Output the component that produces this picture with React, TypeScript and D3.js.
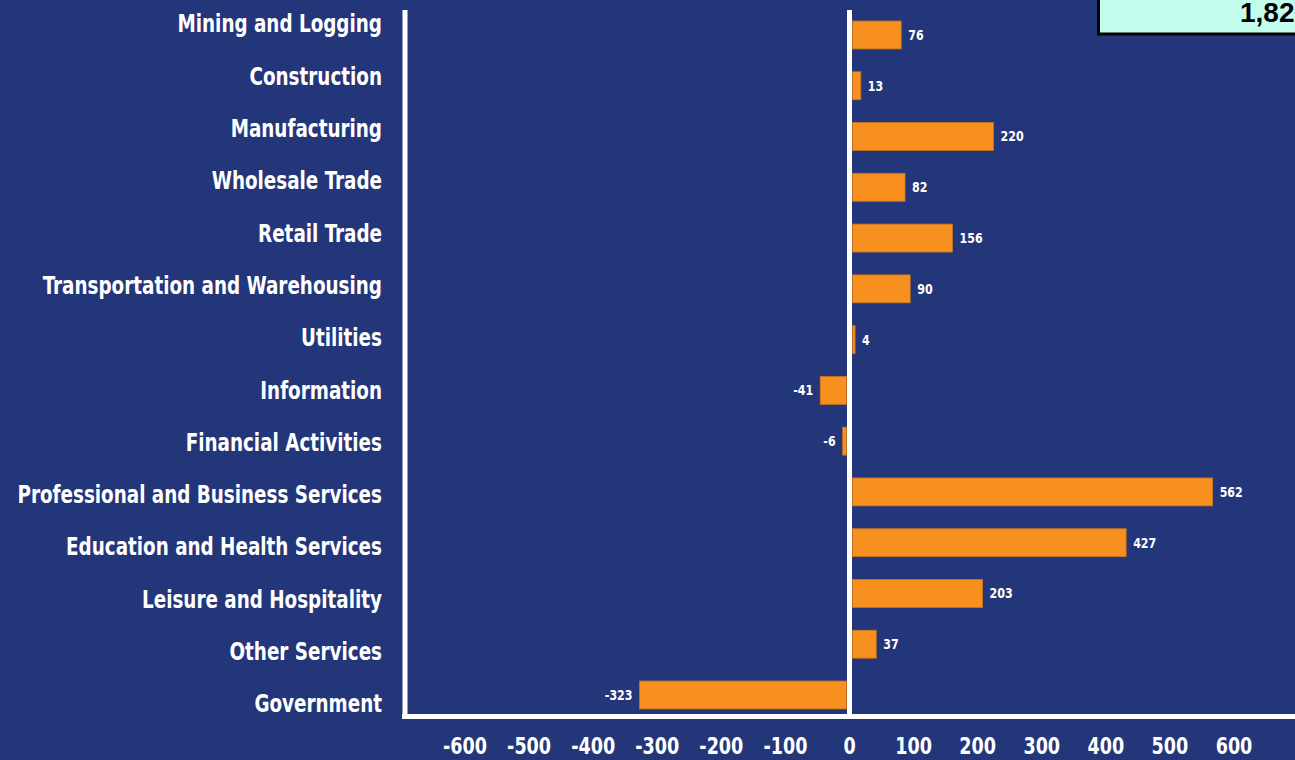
import React from "react";
import * as d3 from "d3";

// job change by industry, thousands
const categories = [
  "Mining and Logging",
  "Construction",
  "Manufacturing",
  "Wholesale Trade",
  "Retail Trade",
  "Transportation and Warehousing",
  "Utilities",
  "Information",
  "Financial Activities",
  "Professional and Business Services",
  "Education and Health Services",
  "Leisure and Hospitality",
  "Other Services",
  "Government",
];
const values = [76, 13, 220, 82, 156, 90, 4, -41, -6, 562, 427, 203, 37, -323];
const tickValues = [-600, -500, -400, -300, -200, -100, 0, 100, 200, 300, 400, 500, 600];
const totalLabel = "1,823";

const W = 1295;
const H = 760;
const bg = "#24367a";
const orange = "#f7901e";
const condensed = "'DejaVu Sans Condensed', 'DejaVu Sans', sans-serif";
const squeeze = 0.85; // fake a narrow font

function App() {
  const x = d3.scaleLinear().domain([-600, 600]).range([465, 1234]);
  const y = d3.scaleBand<string>().domain(categories).range([9.6, 720.4]).paddingInner(0.45).paddingOuter(0.225);
  const yLabel = d3.scalePoint<string>().domain(categories).range([24, 704]);
  const gap = 3; // bars sit outside the zero line

  return (
    <svg width={W} height={H} style={{ position: "absolute", left: 0, top: 0, display: "block" }}>
      <rect x={0} y={0} width={W} height={H} fill={bg} />

      {/* bars */}
      {values.map((v, i) => {
        const c = categories[i];
        const w = Math.abs(x(v) - x(0));
        const x0 = v >= 0 ? x(0) + gap : x(0) - gap - w;
        return (
          <rect key={c} x={x0} y={y(c)} width={w} height={y.bandwidth()}
            fill={orange} stroke="#c8741c" strokeWidth={0.8} />
        );
      })}

      {/* value labels */}
      {values.map((v, i) => {
        const c = categories[i];
        const yc = (y(c) as number) + y.bandwidth() / 2;
        const tx = v >= 0 ? x(v) + gap + 7 : x(v) - gap - 7;
        return (
          <text key={c} transform={`translate(${tx},${yc}) scale(0.88,1)`} dy="0.35em"
            textAnchor={v >= 0 ? "start" : "end"} fill="#fff" fontSize={14}
            fontWeight="bold" fontFamily={condensed}>
            {v}
          </text>
        );
      })}

      {/* axes lines */}
      <line x1={405} x2={405} y1={10} y2={719} stroke="#fff" strokeWidth={5} />
      <line x1={402} x2={W} y1={716.5} y2={716.5} stroke="#fff" strokeWidth={5} />
      <line x1={x(0)} x2={x(0)} y1={10} y2={716} stroke="#fff" strokeWidth={5} />

      {/* category labels */}
      {categories.map((c) => (
        <text key={c} transform={`translate(382,${yLabel(c)}) scale(${squeeze},1)`} dy="0.35em"
          textAnchor="end" fill="#fff" fontSize={24} fontWeight="bold" fontFamily={condensed}>
          {c}
        </text>
      ))}

      {/* x tick labels */}
      {tickValues.map((t) => (
        <text key={t} transform={`translate(${x(t)},746) scale(${squeeze},1)`} dy="0.35em"
          textAnchor="middle" fill="#fff" fontSize={23} fontWeight="bold" fontFamily={condensed}>
          {t}
        </text>
      ))}

      {/* total box, cut off at the right edge */}
      <rect x={1098.5} y={-5} width={260} height={39} fill="#c2fdee" stroke="#000" strokeWidth={3} />
      <text x={1240} y={22} fill="#000" fontSize={28} fontWeight="bold"
        fontFamily="'Liberation Sans', Arial, sans-serif">
        {totalLabel}
      </text>
    </svg>
  );
}

export default App;
